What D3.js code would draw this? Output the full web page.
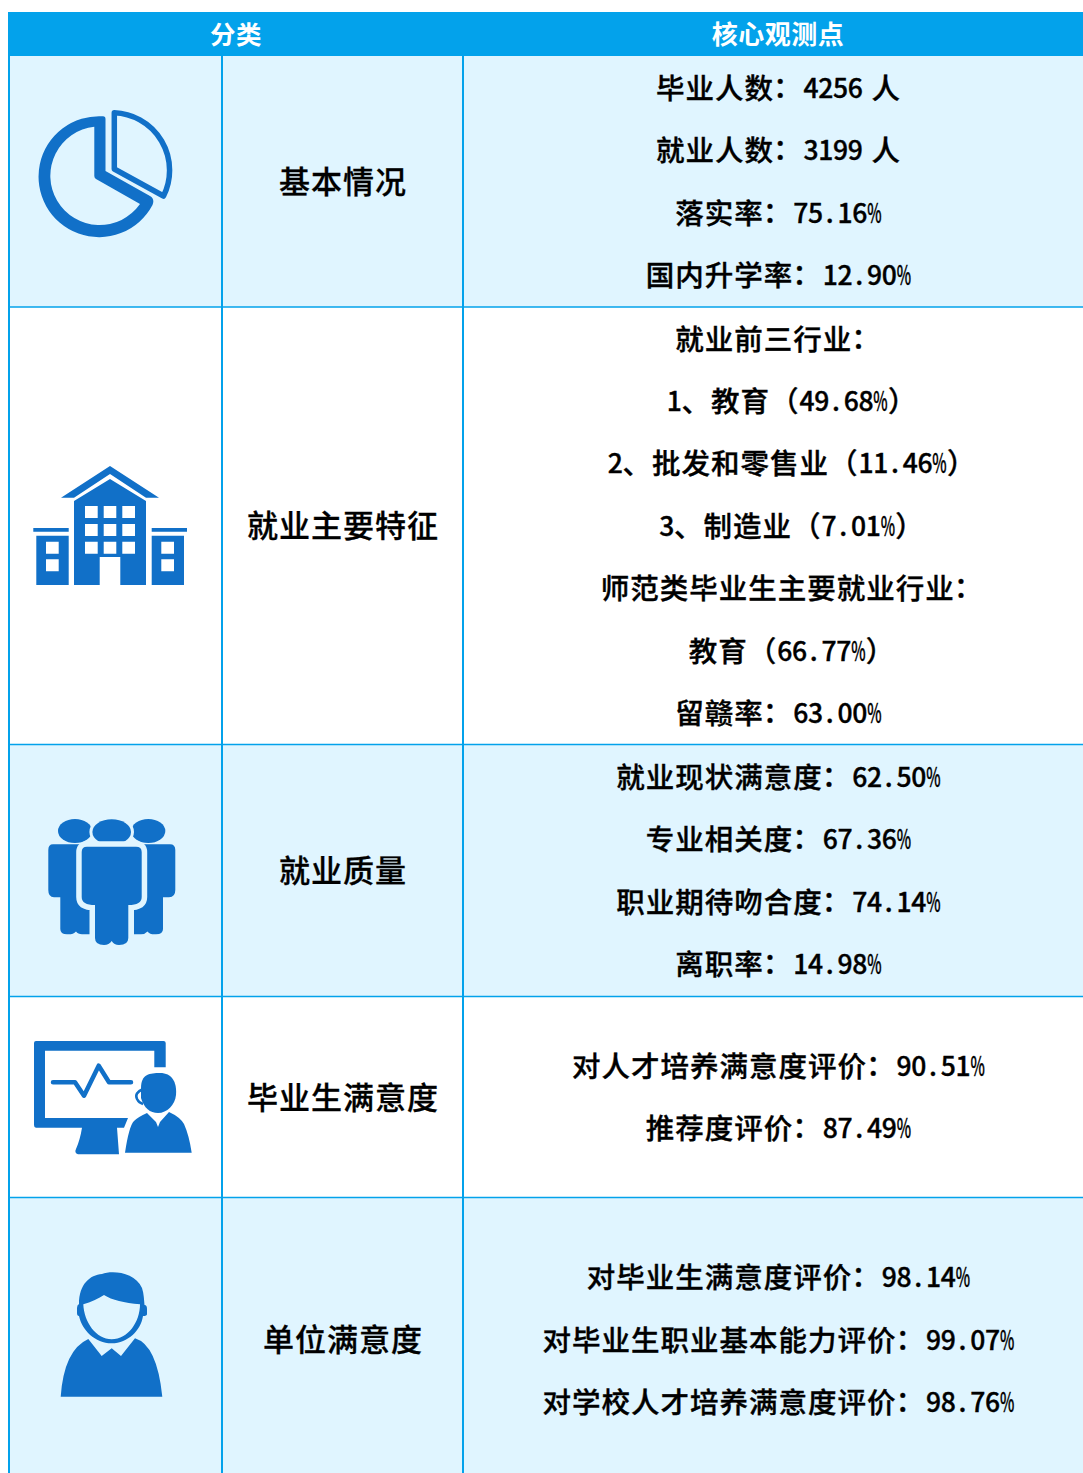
<!DOCTYPE html>
<html><head><meta charset="utf-8">
<script src="https://cdn.jsdelivr.net/npm/d3@7/dist/d3.min.js"></script>
<style>html,body{margin:0;padding:0;background:#fff;overflow:hidden}svg{display:block}text{white-space:pre}</style>
</head><body><div id="c"></div>
<script>
const headers = ["分类", "核心观测点"];
const categories = ["基本情况", "就业主要特征", "就业质量", "毕业生满意度", "单位满意度"];
const basicLines = ["毕业人数：4256 人", "就业人数：3199 人", "落实率：75.16%", "国内升学率：12.90%"];
const featureLines = ["就业前三行业：", "1、教育（49.68%）", "2、批发和零售业（11.46%）", "3、制造业（7.01%）", "师范类毕业生主要就业行业：", "教育（66.77%）", "留赣率：63.00%"];
const qualityLines = ["就业现状满意度：62.50%", "专业相关度：67.36%", "职业期待吻合度：74.14%", "离职率：14.98%"];
const graduateLines = ["对人才培养满意度评价：90.51%", "推荐度评价：87.49%"];
const employerLines = ["对毕业生满意度评价：98.14%", "对毕业生职业基本能力评价：99.07%", "对学校人才培养满意度评价：98.76%"];
const allLines = [basicLines, featureLines, qualityLines, graduateLines, employerLines];

const W = 1083, H = 1473;
const BLUE = "#03a2eb", LIGHT = "#e0f5ff", ICON = "#1170c8";
const FONT = "'Noto Sans CJK SC','Noto Sans',sans-serif";
const FONT_TC = "'Noto Sans CJK TC','Noto Sans CJK SC',sans-serif";
const rowEdges = [56, 307, 744.5, 996.5, 1197.5, 1482];
const colEdges = [9, 222, 463, 1083];
const lineStep = 62.4;
const featureNudge = [0, 13.5, 13.5, 13.5, 14, 13.5, 0];

const svg = d3.select("#c").append("svg").attr("width", W).attr("height", H).attr("viewBox", `0 0 ${W} ${H}`);
const rowY = d3.scaleOrdinal().domain(categories).range(rowEdges.slice(0, 5));
const rowEnd = d3.scaleOrdinal().domain(categories).range(rowEdges.slice(1));

function isWide(ch) { return ch.charCodeAt(0) > 255; }
function addText(sel, str, cx, cy, em, o) {
  o = o || {};
  const half = em / 2, gap = em * 0.31;
  const adv = c => c === " " ? gap : isWide(c) ? em : half;
  const total = Array.from(str).reduce((s, c) => s + adv(c), 0);
  let x = cx - total / 2;
  const size = o.size || em * 0.96;
  const t = sel.append("text").attr("y", cy).attr("dominant-baseline", "central")
    .attr("font-family", FONT).attr("font-size", size)
    .attr("font-weight", o.weight || 500).attr("fill", o.fill || "#000");
  if (o.stroke) t.attr("stroke", o.fill || "#000").attr("stroke-width", o.stroke);
  Array.from(str).forEach(c => {
    const sp = t.append("tspan").text(c);
    let px = x;
    if (c === "：") { sp.attr("font-family", FONT_TC); px = x - 8; }
    else if (c === ".") { sp.attr("font-size", size * 0.93); px = x + 3; }
    else if (c === "%") {
      sp.attr("font-size", size * 0.93).attr("textLength", (half - 0.4).toFixed(2)).attr("lengthAdjust", "spacingAndGlyphs");
      px = x + 0.2;
    }
    else if (c !== " " && !isWide(c)) {
      sp.attr("font-size", size * 0.93);
    }
    sp.attr("x", px.toFixed(2));
    x += adv(c);
  });
  return t;
}

// Row backgrounds
svg.selectAll("rect.row").data(categories).join("rect").attr("class", "row")
  .attr("x", colEdges[0]).attr("width", W - colEdges[0])
  .attr("y", d => rowY(d)).attr("height", d => rowEnd(d) - rowY(d))
  .attr("fill", (d, i) => i % 2 === 0 ? LIGHT : "#fff");

// Header
svg.append("rect").attr("x", 8).attr("y", 12).attr("width", W - 8).attr("height", 44).attr("fill", BLUE);
addText(svg, headers[0], 236, 32, 26, {fill: "#fff", weight: 700, size: 25.5});
addText(svg, headers[1], 778, 32, 26.5, {fill: "#fff", weight: 700, size: 26});

// Grid lines
svg.selectAll("line.h").data(rowEdges.slice(1, 5)).join("line").attr("class", "h")
  .attr("x1", 8).attr("x2", W).attr("y1", d => d).attr("y2", d => d).attr("stroke", BLUE).attr("stroke-width", 1.5);
svg.selectAll("line.v").data(colEdges.slice(0, 3)).join("line").attr("class", "v")
  .attr("x1", d => d).attr("x2", d => d).attr("y1", 56).attr("y2", H).attr("stroke", BLUE).attr("stroke-width", 2);

// Text
categories.forEach((cat, r) => {
  const mid = (rowEdges[r] + rowEdges[r + 1]) / 2;
  const labelY = r === 4 ? 1339.5 : mid;
  addText(svg, cat, 343, labelY - 2.4, 32, {size: 31, weight: 500, stroke: 0.3});
  allLines[r].forEach((t, i) => {
    const nudge = r === 1 ? featureNudge[i] : 0;
    addText(svg, t, 778.5 + nudge, labelY - 1.9 + (i - (allLines[r].length - 1) / 2) * lineStep, 29.5, {size: 28.5, stroke: 0.35});
  });
});

// Icons
const ic = svg.append("g").attr("fill", ICON);
// pie
ic.append("path").attr("fill-rule", "evenodd").attr("d",
 "M103,116.3 A60.5,60.5 0 1 0 152.5,205 Q155,199 150,196 L105.5,171 L105.5,119 Q105.5,116.3 103,116.3 Z M94.3,126.7 L94.3,176 Q94.3,178 96,179 L140,204 A49.3,49.3 0 1 1 94.3,126.7 Z");
ic.append("path").attr("fill", "none").attr("stroke", ICON).attr("stroke-width", 5.5).attr("stroke-linejoin", "round")
  .attr("d", "M114.3,112.8 L114.3,169 L163.5,196 A57.5,57.5 0 0 0 114.3,112.8 Z");
// building
ic.append("path").attr("d", "M61,497.7 L110,466 L159,497.7 H146 L110,474 L74,497.7 Z");
ic.append("path").attr("fill-rule", "evenodd").attr("d",
 "M110,479 L146,501 V585 H120.3 V557 H99.7 V585 H74 V501 Z " +
 "M85,506H97.7V518H85Z M103.7,506H116.3V518H103.7Z M122.3,506H135V518H122.3Z " +
 "M85,524H97.7V536H85Z M103.7,524H116.3V536H103.7Z M122.3,524H135V536H122.3Z " +
 "M85,541.7H97.7V553.7H85Z M103.7,541.7H116.3V553.7H103.7Z M122.3,541.7H135V553.7H122.3Z");
ic.append("path").attr("d", "M33.3,528H68.7V531.7H33.3Z M151.7,528H187V531.7H151.7Z");
ic.append("path").attr("fill-rule", "evenodd").attr("d",
 "M36.3,535.7H68.7V585H36.3Z M46,541.7H58.7V553.7H46Z M46,559.3H58.7V571.3H46Z " +
 "M151.7,535.7H184V585H151.7Z M161.3,541.7H174V553.7H161.3Z M161.3,559.3H174V571.3H161.3Z");
// people
ic.append("ellipse").attr("cx", 75).attr("cy", 831).attr("rx", 17).attr("ry", 12);
ic.append("ellipse").attr("cx", 148.3).attr("cy", 831).attr("rx", 17).attr("ry", 12);
ic.append("path").attr("d", "M53,844.3 H90 V934.3 H82 Q78,934.3 76,931.5 Q73,934.8 67,934.3 Q60.3,934.3 60.3,929 V897.3 H54 Q48.3,897.3 48.3,890 V850 Q48.3,844.3 53,844.3 Z");
ic.append("path").attr("d", "M134,844.3 H170 Q175.3,844.3 175.3,850 V890 Q175.3,897.3 169,897.3 H163 V929 Q163,934.3 156,934.3 Q150,934.8 147.5,931.5 Q145,934.3 141,934.3 H134 Z");
ic.append("ellipse").attr("cx", 111.7).attr("cy", 832).attr("rx", 19.3).attr("ry", 12.7)
  .attr("stroke", LIGHT).attr("stroke-width", 6).attr("paint-order", "stroke");
ic.append("path").attr("stroke", LIGHT).attr("stroke-width", 11).attr("paint-order", "stroke").attr("stroke-linejoin", "round")
  .attr("d", "M87,846.7 H136 Q141.7,846.7 141.7,852 V897 Q141.7,905 128.3,905 V938 Q128.3,945 119,945 Q114,945 111.7,941 Q109,945 104,945 Q95,945 95,938 V905 Q81.7,905 81.7,897 V852 Q81.7,846.7 87,846.7 Z");
// monitor
ic.append("path").attr("fill-rule", "evenodd").attr("d",
 "M36,1041 H163.5 Q165.7,1041 165.7,1043 V1067.3 H154.3 V1050.7 H45 V1118 H128 L124,1127.7 H117 L119,1154.3 H78 Q74,1153 76,1149 Q80,1140 82,1127.7 H36 Q34,1127.7 34,1125 V1043 Q34,1041 36,1041 Z");
ic.append("path").attr("fill", "none").attr("stroke", ICON).attr("stroke-width", 4.5).attr("stroke-linecap", "round").attr("stroke-linejoin", "round")
  .attr("d", "M53,1082.3 H75 L84,1095.7 L98.7,1065.7 L109,1082.3 H131");
ic.append("path").attr("d", "M125,1152.7 Q129,1126 134,1121 Q138,1117 147,1113 L156,1122 L158,1127 L160,1122 L169,1112 Q180,1117 184,1124 Q189,1135 191.7,1152.7 Z");
ic.append("path").attr("d", "M141,1088 C141,1074 150,1073 160,1073 C172,1073 177,1082 176,1095 C175,1105 167,1113 158,1113 C150,1113 144,1108 141,1098 Z");
ic.append("path").attr("fill", "none").attr("stroke", ICON).attr("stroke-width", 2.5).attr("d", "M143,1089 Q134,1093 137,1099 Q139,1103 143,1104");
// man
ic.append("path").attr("d", "M60.7,1396.7 Q64,1350 88.3,1339 L101.7,1356 L111.7,1348.3 L121,1356 L135,1338.3 Q157,1345 162.3,1396.7 Z");
ic.append("path").attr("fill-rule", "evenodd").attr("d",
 "M79,1304 C79,1284 90,1275 102,1274 C112,1270 135,1272 142,1288 C144,1294 144,1300 144.5,1305 Q147,1305 147,1309 V1314 Q147,1316 143,1316 C141,1330 128,1343.3 111.7,1343.3 C95,1343.3 82,1330 79,1316 Q77,1316 77,1313 V1308 Q77,1305 79,1304 Z " +
 "M83.3,1304.3 C84,1322 96,1339.3 111.7,1339.3 C128,1339.3 140,1322 140,1304.3 C124,1303 112,1300 104,1295 C98,1299 91,1302 83.3,1304.3 Z");
</script></body></html>
